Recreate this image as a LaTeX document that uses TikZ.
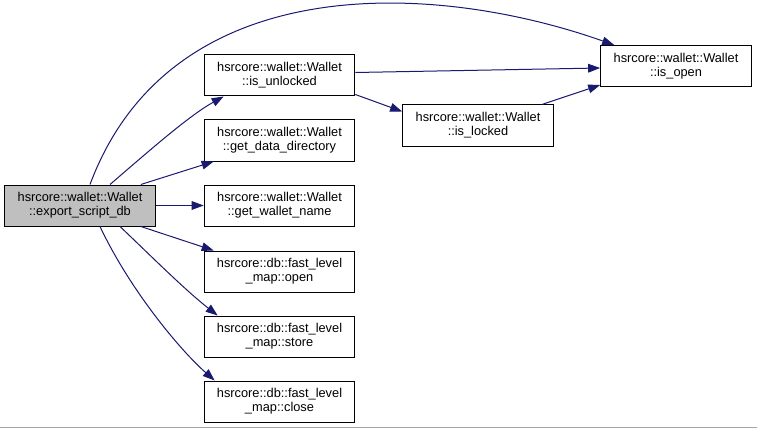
\documentclass[tikz,border=0pt]{standalone}
\usepackage{fontspec}
\setmainfont{Liberation Sans}
\usetikzlibrary{arrows.meta,calc}
\definecolor{edgeblue}{HTML}{191970}
\definecolor{hilite}{HTML}{BFBFBF}
\tikzset{
  fn/.style={draw=black, fill=white, line width=0.75pt, minimum width=113pt, minimum height=30.75pt, inner sep=1pt, align=center, font=\fontsize{9.6pt}{10.5pt}\selectfont},
  cur/.style={fn, fill=hilite},
  call/.style={draw=edgeblue, line width=0.75pt, -{Triangle[length=9pt,width=6.5pt]}}
}
\begin{document}
\begin{tikzpicture}[x=0.75pt,y=-0.75pt]
\useasboundingbox (0,0) rectangle (757,428);
\fill[white] (0,0) rectangle (757,428);
\draw[gray!70, line width=0.75pt] (0,427.5) -- (757,427.5);
\node[cur] (exp) at (80,205.5) {hsrcore::wallet::Wallet\\::export\_script\_db};
\node[fn] (unl) at (279.5,75.5) {hsrcore::wallet::Wallet\\::is\_unlocked};
\node[fn] (gdd) at (279.5,140.5) {hsrcore::wallet::Wallet\\::get\_data\_directory};
\node[fn] (gwn) at (279.5,205.5) {hsrcore::wallet::Wallet\\::get\_wallet\_name};
\node[fn] (opn) at (279.5,271.5) {hsrcore::db::fast\_level\\\_map::open};
\node[fn] (sto) at (279.5,336.5) {hsrcore::db::fast\_level\\\_map::store};
\node[fn] (clo) at (279.5,401.5) {hsrcore::db::fast\_level\\\_map::close};
\node[fn] (lck) at (478,125.5) {hsrcore::wallet::Wallet\\::is\_locked};
\node[fn] (opw) at (676,66) {hsrcore::wallet::Wallet\\::is\_open};
\draw[call] ($(exp.north)+(10,0)$) .. controls (170,-30) and (430,-20) .. ($(opw.north west)+(14,0)$);
\draw[call] ($(exp.north)+(30,0)$) .. controls (150,150) and (190,115) .. ($(unl.south west)+(20,0)$);
\draw[call] ($(exp.north east)+(-15,0)$) -- ($(gdd.south west)+(10,0)$);
\draw[call] (exp.east) -- (gwn.west);
\draw[call] ($(exp.south east)+(-15,0)$) -- ($(opn.north west)+(10,0)$);
\draw[call] ($(exp.south)+(40,0)$) .. controls (150,255) and (185,290) .. ($(sto.north west)+(14,0)$);
\draw[call] ($(exp.south)+(20,0)$) .. controls (130,290) and (180,350) .. ($(clo.north west)+(11,0)$);
\draw[call] ($(unl.east)+(0,-3)$) -- ($(opw.west)+(0,2)$);
\draw[call] ($(unl.south east)+(0,-2)$) -- ($(lck.north west)+(0,7)$);
\draw[call] ($(lck.north east)+(-12,0)$) -- ($(opw.south west)+(0,-2)$);
\end{tikzpicture}
\end{document}
